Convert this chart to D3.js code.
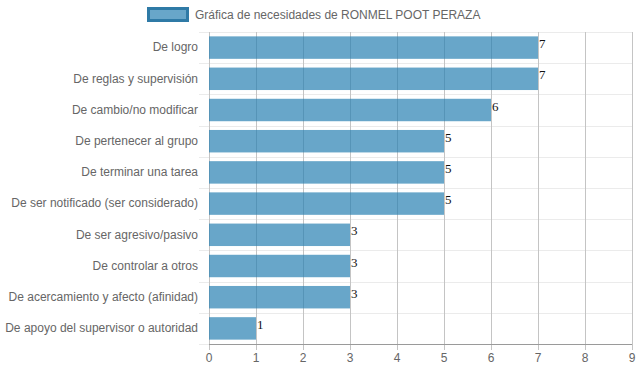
<!DOCTYPE html>
<html>
<head>
<meta charset="utf-8">
<script src="https://cdn.jsdelivr.net/npm/d3@7"></script>
<style>
  body { margin: 0; background: #fff; }
  svg { display: block; font-family: "Liberation Sans", Arial, sans-serif; }
</style>
</head>
<body>
<svg id="chart" width="639" height="372"></svg>
<script>
// needs per category
var categories = [
  "De logro",
  "De reglas y supervisión",
  "De cambio/no modificar",
  "De pertenecer al grupo",
  "De terminar una tarea",
  "De ser notificado (ser considerado)",
  "De ser agresivo/pasivo",
  "De controlar a otros",
  "De acercamiento y afecto (afinidad)",
  "De apoyo del supervisor o autoridad"
];
var values = [7, 7, 6, 5, 5, 5, 3, 3, 3, 1];
var xTicks = [0, 1, 2, 3, 4, 5, 6, 7, 8, 9];
var seriesName = "Gráfica de necesidades de RONMEL POOT PERAZA";

var svg = d3.select("#chart");
var plotLeft = 209, plotRight = 632, plotTop = 32, plotBottom = 344;

var x = d3.scaleLinear().domain([0, 9]).range([plotLeft, plotRight]);
var y = d3.scaleBand().domain(categories).range([plotTop, plotBottom]);
var barH = y.bandwidth() * 0.72;

// horizontal grid (category boundaries), light
var hLines = categories.map(function(c) { return y(c); }).concat([plotBottom]);
svg.append("g").selectAll("line").data(hLines).enter().append("line")
  .attr("x1", plotLeft - 10).attr("x2", plotRight)
  .attr("y1", function(d) { return Math.round(d) + 0.5; })
  .attr("y2", function(d) { return Math.round(d) + 0.5; })
  .attr("stroke", "#ebebeb").attr("stroke-width", 1);

// vertical grid
svg.append("g").selectAll("line").data(xTicks).enter().append("line")
  .attr("x1", function(d) { return Math.round(x(d)) + 0.5; })
  .attr("x2", function(d) { return Math.round(x(d)) + 0.5; })
  .attr("y1", plotTop).attr("y2", plotBottom + 6)
  .attr("stroke", "#c4c4c4").attr("stroke-width", 1);

// x axis line
svg.append("line")
  .attr("x1", plotLeft).attr("x2", plotRight)
  .attr("y1", plotBottom + 0.5).attr("y2", plotBottom + 0.5)
  .attr("stroke", "#9a9a9a");

// bars (semi-transparent, grid shows through)
svg.append("g").selectAll("rect").data(values).enter().append("rect")
  .attr("x", x(0))
  .attr("y", function(d, i) { return y(categories[i]) + (y.bandwidth() - barH) / 2; })
  .attr("width", function(d) { return x(d) - x(0); })
  .attr("height", barH)
  .attr("fill", "rgba(40,128,178,0.7)");

// value labels
svg.append("g").selectAll("text").data(values).enter().append("text")
  .attr("x", function(d) { return x(d) + 1; })
  .attr("y", function(d, i) { return y(categories[i]) + y.bandwidth() / 2 + 0.5; })
  .attr("font-family", "'Liberation Serif', 'DejaVu Serif', serif")
  .attr("font-size", 13)
  .attr("fill", "#111")
  .text(function(d) { return d; });

// y labels
svg.append("g").selectAll("text").data(categories).enter().append("text")
  .attr("x", plotLeft - 11)
  .attr("y", function(d) { return y(d) + y.bandwidth() / 2; })
  .attr("dy", "0.32em")
  .attr("text-anchor", "end")
  .attr("font-size", 12)
  .attr("fill", "#666")
  .text(function(d) { return d; });

// x tick labels
svg.append("g").selectAll("text").data(xTicks).enter().append("text")
  .attr("x", function(d) { return x(d); })
  .attr("y", plotBottom + 14)
  .attr("dy", "0.35em")
  .attr("text-anchor", "middle")
  .attr("font-size", 12)
  .attr("fill", "#666")
  .text(function(d) { return d; });

// legend
var lg = svg.append("g");
lg.append("rect")
  .attr("x", 148.5).attr("y", 8.5).attr("width", 39).attr("height", 12)
  .attr("fill", "rgba(40,128,178,0.7)")
  .attr("stroke", "#2f7aa6").attr("stroke-width", 3);
lg.append("text")
  .attr("x", 195).attr("y", 15)
  .attr("dy", "0.35em")
  .attr("font-size", 12)
  .attr("fill", "#666")
  .text(seriesName);
</script>
</body>
</html>
